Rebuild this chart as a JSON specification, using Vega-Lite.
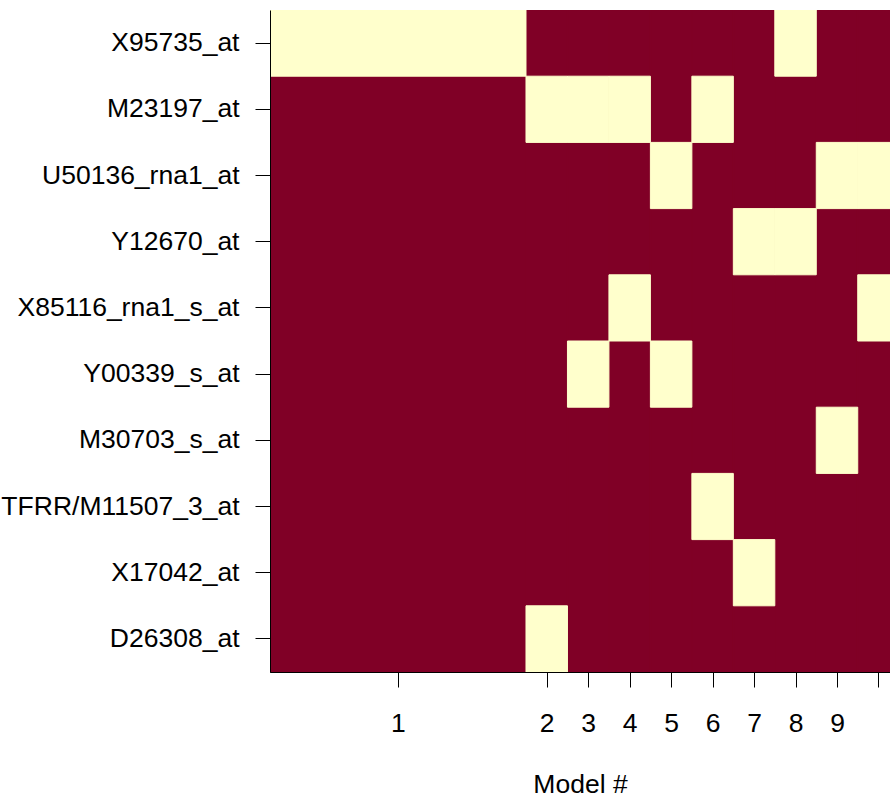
{
  "$schema": "https://vega.github.io/schema/vega-lite/v6.json",
  "width": 620,
  "height": 662,
  "autosize": {"type": "none"},
  "padding": {"left": 270, "top": 10, "right": 0, "bottom": 126},
  "background": "white",
  "config": {
    "view": {"stroke": "#444444", "strokeWidth": 1},
    "font": "Liberation Sans"
  },
  "datasets": {
    "models": [
      {"model": 1, "start": 0.0, "end": 0.25},
      {"model": 2, "start": 0.25, "end": 0.2905},
      {"model": 3, "start": 0.2905, "end": 0.331},
      {"model": 4, "start": 0.331, "end": 0.3715},
      {"model": 5, "start": 0.3715, "end": 0.412},
      {"model": 6, "start": 0.412, "end": 0.4525},
      {"model": 7, "start": 0.4525, "end": 0.493},
      {"model": 8, "start": 0.493, "end": 0.5335},
      {"model": 9, "start": 0.5335, "end": 0.574},
      {"model": 10, "start": 0.574, "end": 0.6145}
    ],
    "incl": [
      {"gene": "X95735_at", "model": 1},
      {"gene": "M23197_at", "model": 2},
      {"gene": "D26308_at", "model": 2},
      {"gene": "M23197_at", "model": 3},
      {"gene": "Y00339_s_at", "model": 3},
      {"gene": "M23197_at", "model": 4},
      {"gene": "X85116_rna1_s_at", "model": 4},
      {"gene": "U50136_rna1_at", "model": 5},
      {"gene": "Y00339_s_at", "model": 5},
      {"gene": "M23197_at", "model": 6},
      {"gene": "AFFX-HUMTFRR/M11507_3_at", "model": 6},
      {"gene": "Y12670_at", "model": 7},
      {"gene": "X17042_at", "model": 7},
      {"gene": "X95735_at", "model": 8},
      {"gene": "Y12670_at", "model": 8},
      {"gene": "U50136_rna1_at", "model": 9},
      {"gene": "M30703_s_at", "model": 9},
      {"gene": "U50136_rna1_at", "model": 10},
      {"gene": "X85116_rna1_s_at", "model": 10}
    ]
  },
  "layer": [
    {
      "data": {"name": "models"},
      "mark": {"type": "rect", "fill": "#800026", "stroke": "#800026", "strokeWidth": 1.5, "clip": true},
      "encoding": {
        "x": {
          "field": "start",
          "type": "quantitative",
          "scale": {"domain": [0, 0.6055], "nice": false, "zero": false},
          "axis": {
            "values": [0.125, 0.27025, 0.31075, 0.35125, 0.39175, 0.43225, 0.47275, 0.51325, 0.55375, 0.59425],
            "labelExpr": "datum.value < 0.2 ? '1' : datum.value < 0.28 ? '2' : datum.value < 0.32 ? '3' : datum.value < 0.36 ? '4' : datum.value < 0.40 ? '5' : datum.value < 0.44 ? '6' : datum.value < 0.48 ? '7' : datum.value < 0.52 ? '8' : datum.value < 0.56 ? '9' : ''",
            "grid": false,
            "domain": true,
            "domainColor": "black",
            "tickColor": "black",
            "tickSize": 15,
            "labelFontSize": 26.5,
            "labelColor": "black",
            "labelPadding": 23,
            "labelFlush": false,
            "labelOverlap": false,
            "title": "Model #",
            "titleFontSize": 26.5,
            "titleFontWeight": "normal",
            "titleColor": "black",
            "titlePadding": 35
          }
        },
        "x2": {"field": "end"}
      }
    },
    {
      "data": {"name": "incl"},
      "transform": [
        {"lookup": "model", "from": {"data": {"name": "models"}, "key": "model", "fields": ["start", "end"]}}
      ],
      "mark": {"type": "rect", "fill": "#FFFFCC", "stroke": "#FFFFCC", "strokeWidth": 1, "clip": true},
      "encoding": {
        "x": {"field": "start", "type": "quantitative"},
        "x2": {"field": "end"},
        "y": {
          "field": "gene",
          "type": "nominal",
          "scale": {
            "domain": ["X95735_at", "M23197_at", "U50136_rna1_at", "Y12670_at", "X85116_rna1_s_at", "Y00339_s_at", "M30703_s_at", "AFFX-HUMTFRR/M11507_3_at", "X17042_at", "D26308_at"],
            "paddingInner": 0,
            "paddingOuter": 0
          },
          "axis": {
            "title": null,
            "domain": true,
            "domainColor": "black",
            "tickColor": "black",
            "tickSize": 15,
            "labelFontSize": 26.5,
            "labelColor": "black",
            "labelPadding": 16,
            "labelLimit": 0,
            "labelOverlap": false
          }
        }
      }
    }
  ]
}
